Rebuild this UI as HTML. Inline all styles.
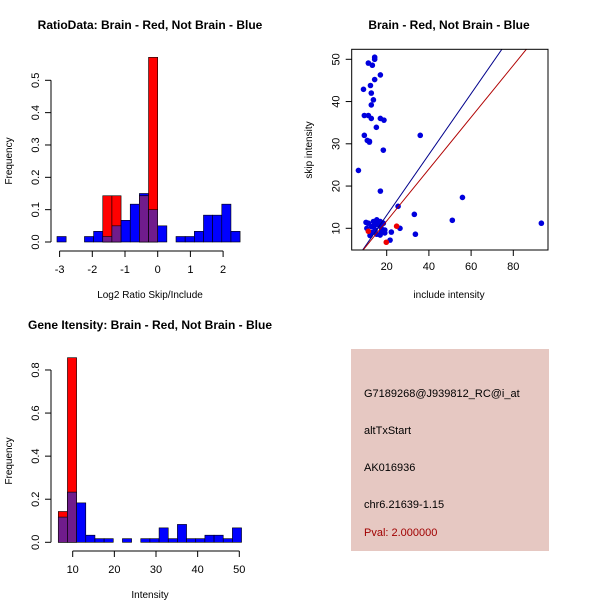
<!DOCTYPE html>
<html><head><meta charset="utf-8"><style>
body{margin:0;background:#fff}
svg{display:block;font-family:"Liberation Sans",sans-serif}
</style></head><body>
<svg id="c" width="600" height="600" viewBox="0 0 600 600">
<rect width="600" height="600" fill="#fff"/>
</svg>
<script>
// Panel 1: log2 ratio histogram
const ratioTicks = [-3,-2,-1,0,1,2];
const ratioYTicks = [0,0.1,0.2,0.3,0.4,0.5];
const ratioBinStart = -3.08;
const ratioBinWidth = 0.28;
const ratioBlue = [0.017,0,0,0.017,0.033,0.017,0.05,0.067,0.117,0.15,0.10,0.05,0,0.017,0.017,0.033,0.083,0.083,0.117,0.033];
const ratioRed  = [0,0,0,0,0,0.143,0.143,0,0,0.143,0.571,0,0,0,0,0,0,0,0,0];
// Panel 2: scatter
const scatterXTicks = [20,40,60,80];
const scatterYTicks = [10,20,30,40,50];
const blueX = [14.3,14.3,11.3,13.2,17,14.3,12.3,9.0,12.7,13.7,12.7,9.4,11.3,12.7,17,18.7,15.1,9.4,35.9,10.8,11.8,11.8,18.4,6.6,17,55.9,25.4,33.1,51.1,93.3,22.2,26.3,33.6,21.6,
  11.3,13.7,15.3,16.9,18.4,16.1,12.9,10.6,14.5,17.6,19.1,12.9,15.3,16.9,19.1,12.1,14.0,15.8,17.3,10.2];
const blueY = [50.5,50.0,49.1,48.6,46.3,45.2,43.8,42.9,42.0,40.4,39.2,36.7,36.7,36.0,36.0,35.6,33.9,32.0,32.0,30.8,30.6,30.4,28.5,23.7,18.8,17.3,15.2,13.3,11.9,11.2,9.1,10.0,8.6,7.2,
  11.2,11.6,12.0,11.6,11.2,10.8,10.4,10.0,9.6,9.2,9.6,9.0,8.6,8.4,8.9,8.3,10.6,11.0,10.2,11.4];
const redX = [11.3,19.8,24.7];
const redY = [9.3,6.7,10.5];
const blueFit = [-1.33,0.72];
const redFit = [-0.55,0.614];
// Panel 3: intensity histogram
const intXTicks = [10,20,30,40,50];
const intYTicks = [0,0.2,0.4,0.6,0.8];
const intBinStart = 6.54;
const intBinWidth = 2.2;
const intBlue = [0.117,0.233,0.183,0.033,0.017,0.017,0,0.017,0,0.017,0.017,0.067,0.017,0.083,0.017,0.017,0.033,0.033,0.017,0.067];
const intRed  = [0.143,0.857,0,0,0,0,0,0,0,0,0,0,0,0,0,0,0,0,0,0];
// Panel 4 info
const infoLines = ["G7189268@J939812_RC@i_at","altTxStart","AK016936","chr6.21639-1.15"];
const pvalText = "Pval: 2.000000";

const svg = document.getElementById('c');
const NS = 'http://www.w3.org/2000/svg';
function mk(tag, attrs, parent){const e=document.createElementNS(NS,tag);for(const k in attrs)e.setAttribute(k,attrs[k]);(parent||svg).appendChild(e);return e;}
function txt(s, attrs, parent){const e=mk('text',attrs,parent);e.textContent=s;return e;}

function histogram(g, binStart, binW, blue, red, xs, ys, yTicks, xTicks, yAxX, xAxY, yFmt){
  for(let i=0;i<blue.length;i++){
    const x0=xs(binStart+i*binW), x1=xs(binStart+(i+1)*binW);
    const b=blue[i], r=red[i], m=Math.min(b,r);
    if(b>0){const e=mk('rect',{x:x0,y:ys(b),width:x1-x0,height:ys(0)-ys(b),fill:'#0000ff',stroke:'#000','stroke-width':0.6},g);
      }
    if(r>0){const e=mk('rect',{x:x0,y:ys(r),width:x1-x0,height:ys(0)-ys(r),fill:'#ff0000',stroke:'#000','stroke-width':0.6},g);
      }
    if(m>0){const e=mk('rect',{x:x0,y:ys(m),width:x1-x0,height:ys(0)-ys(m),fill:'#701c8c',stroke:'#000','stroke-width':0.6},g);
      }
  }
  const ya=mk('g',{},g);
  mk('line',{x1:yAxX,x2:yAxX,y1:ys(yTicks[0]),y2:ys(yTicks[yTicks.length-1]),stroke:'#000'},ya);
  yTicks.forEach(t=>{const y=ys(t);mk('line',{x1:yAxX-6,x2:yAxX,y1:y,y2:y,stroke:'#000'},ya);
    txt(yFmt(t),{x:yAxX-12,y:y,transform:`rotate(-90 ${yAxX-12} ${y})`,'text-anchor':'middle','font-size':11},ya);});
  const xa=mk('g',{},g);
  mk('line',{x1:xs(xTicks[0]),x2:xs(xTicks[xTicks.length-1]),y1:xAxY,y2:xAxY,stroke:'#000'},xa);
  xTicks.forEach(t=>{const x=xs(t);mk('line',{x1:x,x2:x,y1:xAxY,y2:xAxY+6,stroke:'#000'},xa);
    txt(String(t),{x:x,y:xAxY+22,'text-anchor':'middle','font-size':11},xa);});
}

// Panel 1
{
  const g=mk('g',{});
  const xs=v=>157.7+v*32.7, ys=v=>242-v*323.4;
  histogram(g,ratioBinStart,ratioBinWidth,ratioBlue,ratioRed,xs,ys,ratioYTicks,ratioTicks,51,251,t=>t.toFixed(1));
  const t=txt('RatioData: Brain - Red, Not Brain - Blue',{x:150,y:29,'text-anchor':'middle','font-size':12,'font-weight':'bold'});
  
  const xl=txt('Log2 Ratio Skip/Include',{x:150,y:298,'text-anchor':'middle','font-size':10});
  
  const yl=txt('Frequency',{x:12,y:161,transform:'rotate(-90 12 161)','text-anchor':'middle','font-size':10});
  
}
// Panel 2
{
  const g=mk('g',{});
  const xs=v=>386.7+(v-20)*2.11, ys=v=>228.3-(v-10)*4.225;
  const L=351.7,R=548,T=49.3,B=250;
  const cp=mk('clipPath',{id:'cp'},g);mk('rect',{x:L,y:T,width:R-L,height:B-T},cp);
  const pts=mk('g',{'clip-path':'url(#cp)'},g);
  for(let i=0;i<blueX.length;i++){const e=mk('circle',{cx:xs(blueX[i]),cy:ys(blueY[i]),r:2.8,fill:'#0000dd'},pts);
    }
  for(let i=0;i<redX.length;i++){const e=mk('circle',{cx:xs(redX[i]),cy:ys(redY[i]),r:2.8,fill:'#ee0000'},pts);
    }
  [[blueFit,'#00008b','blue-fit-line'],[redFit,'#b00000','red-fit-line']].forEach(([f,c,n])=>{
    const e=mk('line',{x1:xs(0),y1:ys(f[0]),x2:xs(100),y2:ys(f[0]+f[1]*100),stroke:c,'stroke-width':1},pts);
    });
  mk('rect',{x:L,y:T,width:R-L,height:B-T,fill:'none',stroke:'#000'},g);
  scatterXTicks.forEach(t=>{const x=xs(t);mk('line',{x1:x,x2:x,y1:B,y2:B+6,stroke:'#000'},g);
    txt(String(t),{x:x,y:B+20,'text-anchor':'middle','font-size':11},g);});
  mk('line',{x1:xs(20),x2:xs(80),y1:B,y2:B,stroke:'#000'},g);
  scatterYTicks.forEach(t=>{const y=ys(t);mk('line',{x1:L-6,x2:L,y1:y,y2:y,stroke:'#000'},g);
    txt(String(t),{x:L-12,y:y,transform:`rotate(-90 ${L-12} ${y})`,'text-anchor':'middle','font-size':11},g);});
  const t=txt('Brain - Red, Not Brain - Blue',{x:449,y:29,'text-anchor':'middle','font-size':12,'font-weight':'bold'});
  
  const xl=txt('include intensity',{x:449,y:298,'text-anchor':'middle','font-size':10});
  
  const yl=txt('skip intensity',{x:312,y:150,transform:'rotate(-90 312 150)','text-anchor':'middle','font-size':10});
  
}
// Panel 3
{
  const g=mk('g',{});
  const xs=v=>72.7+(v-10)*4.165, ys=v=>542.3-v*215.4;
  histogram(g,intBinStart,intBinWidth,intBlue,intRed,xs,ys,intYTicks,intXTicks,51,551,t=>t.toFixed(1));
  const t=txt('Gene Itensity: Brain - Red, Not Brain - Blue',{x:150,y:329,'text-anchor':'middle','font-size':12,'font-weight':'bold'});
  
  const xl=txt('Intensity',{x:150,y:598,'text-anchor':'middle','font-size':10});
  
  const yl=txt('Frequency',{x:12,y:461,transform:'rotate(-90 12 461)','text-anchor':'middle','font-size':10});
  
}
// Panel 4
{
  const g=mk('g',{});
  mk('rect',{x:351,y:349,width:198,height:202,fill:'#e6c8c2'},g);
  const ys=[397,434,471,508];
  infoLines.forEach((s,i)=>{const e=txt(s,{x:364,y:ys[i],'font-size':11,fill:'#000'},g);
    });
  const p=txt(pvalText,{x:364,y:536,'font-size':11,fill:'#a00000'},g);
  
}
</script>
</body></html>
